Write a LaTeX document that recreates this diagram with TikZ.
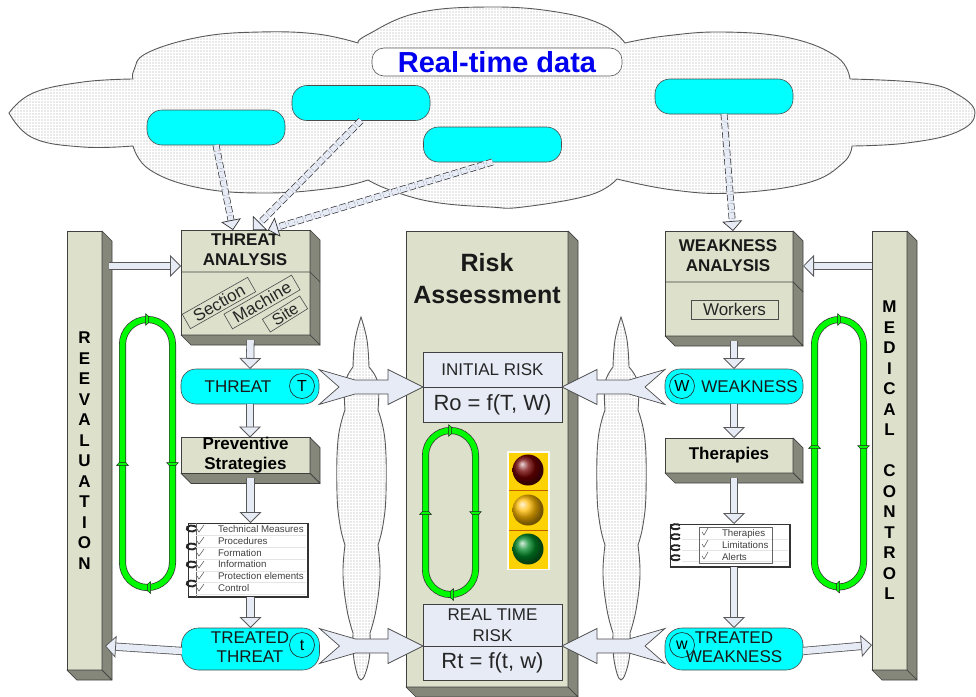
\documentclass[tikz,border=0pt]{standalone}
\usepackage{fontspec}
\setmainfont{Liberation Sans}
\usepackage{xcolor}
\usetikzlibrary{arrows.meta,calc,patterns.meta,shadings}

\definecolor{blockfill}{HTML}{DDE0CB}
\definecolor{blockside}{HTML}{848779}
\definecolor{flowfill}{HTML}{E6EBF6}
\definecolor{feedcyan}{HTML}{00FFFF}
\definecolor{loopgreen}{HTML}{00FA00}
\definecolor{titleblue}{HTML}{0000F0}

\newcommand{\fsize}[1]{\fontsize{#1}{#1}\selectfont}

% side and bottom faces of a block
\newcommand{\extrude}[1]{%
  \draw[sideface] (#1.north east) -- ($(#1.north east)+(10,10)$) -- ($(#1.south east)+(10,10)$) -- (#1.south east) -- cycle;
  \draw[sideface] (#1.south west) -- ($(#1.south west)+(10,10)$) -- ($(#1.south east)+(10,10)$) -- (#1.south east) -- cycle;
  \coordinate (#1b) at ($(#1.south)+(5,5)$);
}

% wide arrow with a forked tail: tail x, tip, direction
\newcommand{\forked}[3]{%
  \coordinate (tl) at (#1 |- #2);
  \draw[bigflow] ($(tl)+(0,-17.5)$) -- ($(tl)+(#3*20,0)$) -- ($(tl)+(#3*0,17.5)$) -- ($(tl)+(#3*36,7)$)
    -- ($(#2)+(#3*-35,7)$) -- ($(#2)+(#3*-35,17.5)$) -- (#2) -- ($(#2)+(#3*-35,-17.5)$)
    -- ($(#2)+(#3*-35,-7)$) -- ($(tl)+(#3*36,-7)$) -- cycle;
}

\begin{document}
\begin{tikzpicture}[x=1pt,y=-1pt]

\tikzset{block/.style = {draw=black!75,fill=blockfill,line width=.7pt,inner sep=0pt,outer sep=0pt,align=center}}
\tikzset{blockline/.style = {draw=black!75,line width=.7pt}}
\tikzset{sideface/.style = {draw=black!75,fill=blockside,line width=.7pt,line join=round}}
\tikzset{pill/.style = {draw=black!70,fill=feedcyan,line width=.6pt,rounded corners=15pt,inner sep=0pt,outer sep=0pt,
  minimum width=138pt,minimum height=35pt,align=center,font=\fsize{17}}}
\tikzset{badge/.style = {circle,draw=black!85,line width=.6pt,minimum size=25pt,inner sep=0pt,font=\fsize{16}}}
\tikzset{plain/.style = {inner sep=0pt,outer sep=0pt,align=center,text=black!90}}
\tikzset{tag/.style = {draw=black!70,line width=.6pt,inner sep=0pt,font=\fsize{17},text=black!85}}
\tikzset{riskbox/.style = {draw=black!75,fill=flowfill,line width=.7pt,inner sep=0pt,outer sep=0pt,minimum width=139pt,align=center,text=black!85}}
\tikzset{flow/.style = {line width=.8pt,draw=black!65,double=flowfill,double distance=6.6pt,
  -{Triangle[length=11pt,width=22pt,fill=flowfill,line width=.8pt]}}}
\tikzset{dashflow/.style = {line width=.7pt,draw=black!80,dash pattern=on 6pt off 3pt,double=flowfill,double distance=5.4pt,
  preaction={draw=flowfill,solid,line width=6.5pt,-,shorten >=8pt},
  -{Triangle[length=10pt,width=20pt,fill=flowfill,line width=.7pt]}}}
\tikzset{bigflow/.style = {draw=black!70,fill=flowfill,line width=.7pt,line join=miter}}
\tikzset{cloudshape/.style = {draw=black!65,line width=.9pt,pattern={Dots[distance=3pt,radius=.47pt]},pattern color=black,preaction={fill=white}}}
\tikzset{note/.style = {draw=black!80,fill=white,line width=.7pt,inner sep=0pt,outer sep=0pt}}
\tikzset{ringband/.style = {draw=black!80,line width=.7pt,double=loopgreen,double distance=5.6pt,rounded corners=25pt}}
\tikzset{ringmark/.style = {draw=black!85,fill=loopgreen,line width=.5pt,line join=round}}
\tikzset{curl/.style = {draw=black!85,line width=1.9pt}}

\useasboundingbox (0,0) rectangle (976,696);

% clouds
\draw[cloudshape] plot[smooth,tension=.7] coordinates {(9,113) (33,93) (83,82) (133,79)}
  -- plot[smooth,tension=.7] coordinates {(133,79) (134,70) (147,53) (200,37) (260,32) (317,34) (358,43)}
  -- plot[smooth,tension=.7] coordinates {(358,43) (367,35) (417,13) (490,7) (557,12) (603,25) (625,43)}
  -- plot[smooth,tension=.7] coordinates {(625,43) (665,36) (723,32) (790,38) (837,57) (850,79)}
  -- plot[smooth,tension=.7] coordinates {(850,79) (923,83) (957,94) (975,113) (957,132) (907,143) (852,146)}
  -- plot[smooth,tension=.7] coordinates {(852,146) (843,163) (807,183) (733,193) (673,190) (617,179)}
  -- plot[smooth,tension=.7] coordinates {(617,179) (590,195) (523,207) (490,207) (433,202) (390,190) (368,180)}
  -- plot[smooth,tension=.7] coordinates {(368,180) (333,188) (267,193) (200,188) (150,170) (133,146)}
  -- plot[smooth,tension=.7] coordinates {(133,146) (83,147) (33,138) (9,113)} -- cycle;
\foreach \cx in {0,260} {
  \draw[cloudshape,xshift=\cx pt] plot[smooth,tension=.7] coordinates {(361,317) (355,340) (353,367)}
    -- plot[smooth,tension=.7] coordinates {(353,367) (345,383) (345,410)}
    -- plot[smooth,tension=.7] coordinates {(345,410) (338,440) (337,493) (340,525) (345,545)}
    -- plot[smooth,tension=.7] coordinates {(345,545) (343,575) (347,610) (353,633)}
    -- plot[smooth,tension=.7] coordinates {(353,633) (354,660) (361,680) (369,660) (370,633)}
    -- plot[smooth,tension=.7] coordinates {(370,633) (376,610) (380,575) (378,545)}
    -- plot[smooth,tension=.7] coordinates {(378,545) (383,525) (386,493) (385,440) (378,410)}
    -- plot[smooth,tension=.7] coordinates {(378,410) (378,383) (369,367)}
    -- plot[smooth,tension=.7] coordinates {(369,367) (367,340) (361,317)} -- cycle;
}

\node[pill,fill=white,draw=black!65,minimum width=250pt,minimum height=28pt,rounded corners=12pt] (title) at (497,62)
  {\color{titleblue}\bfseries\fsize{29}Real-time data};
\node[pill] (feeda) at (216,127.5) {};
\node[pill] (feedb) at (361,103) {};
\node[pill] (feedc) at (492.5,144.5) {};
\node[pill] (feedd) at (724,96.5) {};

% blocks
\node[block,minimum width=35pt,minimum height=439pt,font=\bfseries\fontsize{17}{20.5}\selectfont] (rev) at (84.5,450.5)
  {R\\E\\E\\V\\A\\L\\U\\A\\T\\I\\O\\N};
\extrude{rev}
\node[block,minimum width=35pt,minimum height=439pt,font=\bfseries\fontsize{17}{20.5}\selectfont] (med) at (889.5,450.5)
  {M\\E\\D\\I\\C\\A\\L\\[20.5pt]C\\O\\N\\T\\R\\O\\L};
\extrude{med}
\node[block,minimum width=162pt,minimum height=456pt] (risk) at (487,459) {};
\extrude{risk}
\node[block,minimum width=129pt,minimum height=105pt] (ta) at (245.5,282.5) {};
\extrude{ta}
\node[block,minimum width=128pt,minimum height=105pt] (wa) at (729,283.5) {};
\extrude{wa}
\node[block,minimum width=129pt,minimum height=35pt,font=\bfseries\fontsize{17}{20}\selectfont] (prev) at (245.5,455.5) {Preventive\\Strategies};
\extrude{prev}
\node[block,minimum width=128pt,minimum height=35pt,font=\bfseries\fsize{17}] (ther) at (729,455.5) {Therapies};
\extrude{ther}

\draw[blockline] (ta.west |- 0,272) -- (ta.east |- 0,272) -- ++(10,10);
\draw[blockline] (wa.west |- 0,282) -- (wa.east |- 0,282) -- ++(10,10);
\node[plain,font=\bfseries\fontsize{17}{20}\selectfont] (talbl) at (245,250) {THREAT\\ANALYSIS};
\node[plain,font=\bfseries\fontsize{17}{20}\selectfont] (walbl) at (728,256) {WEAKNESS\\ANALYSIS};
\node[plain,font=\bfseries\fontsize{25}{32}\selectfont] (risklbl) at (487,279) {Risk\\Assessment};

\node[tag,rotate=29.5,minimum width=75pt,minimum height=16.5pt] (sect) at (219,303) {Section};
\node[tag,rotate=30,minimum width=78pt,minimum height=17pt] (mach) at (262,302) {Machine};
\node[tag,rotate=32,minimum width=44pt,minimum height=15pt,font=\fsize{16}] (site) at (285,314) {Site};
\node[tag,minimum width=87pt,minimum height=19pt] (work) at (734.5,309.5) {Workers};

% pills of the middle rows
\node[pill] (threat) at (250,386.5) {};
\node[plain,font=\fsize{17}] (threatlbl) at (238,386.5) {THREAT};
\node[badge] (tt) at (302,386) {T};
\node[pill] (weak) at (734,386.5) {};
\node[plain,font=\fsize{17}] (weaklbl) at (749.5,386.5) {WEAKNESS};
\node[badge] (ww) at (682,386) {W};
\node[pill,minimum height=42pt,rounded corners=17pt] (tthreat) at (250.5,649) {};
\node[plain,font=\fontsize{17}{19}\selectfont] (tthreatlbl) at (250,647.5) {TREATED\\THREAT};
\node[badge] (tsmall) at (302,645) {t};
\node[pill,minimum height=42pt,rounded corners=17pt] (tweak) at (734,649) {};
\node[badge] (wsmall) at (682,645) {w};
\node[plain,font=\fontsize{17}{19}\selectfont] (tweaklbl) at (734,647.5) {TREATED\\WEAKNESS};

% risk boxes
\node[riskbox,minimum height=35pt,font=\fsize{17}] (ini) at (492.5,369.5) {INITIAL RISK};
\node[riskbox,minimum height=35pt,font=\fsize{22}] (inif) at (492.5,404.5) {Ro = f(T, W)};
\node[riskbox,minimum height=42pt,font=\fontsize{17}{21}\selectfont] (real) at (492.5,625) {REAL TIME\\RISK};
\node[riskbox,minimum height=34pt,font=\fsize{22}] (realf) at (492.5,663) {Rt = f(t, w)};

% traffic light
\node[inner sep=0pt,outer sep=0pt,fill=white!85!blockfill,minimum width=43pt,minimum height=119pt] (lamp) at (528.5,510.5) {};
\fill[fill=yellow!70!orange] (509,453) rectangle (548,569);
\draw[orange!75!black,line width=.5pt] (509,490) -- (548,490) (509,530) -- (548,530);
\shade[ball color=red!45!black] (528,470) circle (15.5);
\shade[ball color=orange!55!yellow] (528,510) circle (15.5);
\shade[ball color=green!45!black!85!cyan] (528,549) circle (15.5);

% notebooks
\node[note,minimum width=120pt,minimum height=74pt] (nota) at (248,560) {};
\draw[black!80,line width=1.6pt] (nota.north east) -- (nota.south east) -- (nota.south west);
\draw[black!60,line width=.5pt] (196,523) -- (196,597);
\foreach \ny in {535,547,559,571,582,594} {\draw[black!10,line width=.6pt] (196,\ny) -- (306,\ny);}
\foreach \ny in {529,541,553,565,576,588} {\draw[black!70,line width=.5pt] (197,\ny) -- (199,\ny+3) -- (204,\ny-4);}
\foreach \ny in {532,550,568,587} {\draw[curl] (196,\ny-2) arc (30:330:5 and 3);}
\node[plain,anchor=west,align=left,font=\fontsize{9.7}{11.8}\selectfont,text=black!75] (notalbl) at (218,558.5)
  {Technical Measures\\Procedures\\Formation\\Information\\Protection elements\\Control};

\node[note,minimum width=120pt,minimum height=43pt] (notb) at (730,545.5) {};
\draw[black!80,line width=1.6pt] (notb.north east) -- (notb.south east) -- (notb.south west);
\foreach \ny in {530,540,551,561} {\draw[curl] (680,\ny-2) arc (30:330:5 and 2.6);}
\foreach \ny in {539,550,561} {\draw[black!10,line width=.6pt] (682,\ny) -- (788,\ny);}
\node[draw=black!60,line width=.5pt,inner sep=0pt,outer sep=0pt,minimum width=73pt,minimum height=36pt] (notbbox) at (735.5,545) {};
\foreach \ny in {532,544,556} {\draw[black!70,line width=.5pt] (702,\ny) -- (704,\ny+3) -- (708,\ny-4);}
\node[plain,anchor=west,align=left,font=\fontsize{9.7}{11.8}\selectfont,text=black!75] (notblbl) at (722,545)
  {Therapies\\Limitations\\Alerts};

% rings
\foreach \lx/\ty/\rx/\by/\tx/\bx/\my in {122.5/319.5/172.5/587.5/147/149/464, 425.5/430.5/475.5/594.5/450/452/513, 814.5/319.5/863.5/587/839/838/447} {
  \draw[ringband] (\lx,\ty) rectangle (\rx,\by);
  \draw[ringmark,shift={(\tx,\ty)}] (-1.5,-6) -- (1.5,-3.2) -- (1.5,3.2) -- (-1.5,6) -- cycle;
  \draw[ringmark,shift={(\bx,\by)},rotate=180] (-1.5,-6) -- (1.5,-3.2) -- (1.5,3.2) -- (-1.5,6) -- cycle;
  \draw[ringmark,shift={(\lx,\my)},rotate=90] (-1.5,-6) -- (1.5,-3.2) -- (1.5,3.2) -- (-1.5,6) -- cycle;
  \draw[ringmark,shift={(\rx,\my)},rotate=-90] (-1.5,-6) -- (1.5,-3.2) -- (1.5,3.2) -- (-1.5,6) -- cycle;
}

% edges
\coordinate (ltop) at (109,266);
\coordinate (ltip) at (105,646);
\coordinate (lout) at (182,651);
\coordinate (rout) at (803,651);
\coordinate (rtop) at (872,266);
\coordinate (tip1) at (233,230);
\coordinate (tip2) at (253,230);
\coordinate (tip3) at (268,230);
\coordinate (tip4) at (733,231);

\draw[flow] (ltop) -- (ta.west |- ltop);
\draw[flow] (rtop) -- ($(wa.east |- rtop)+(10,0)$);
\draw[flow] (tab) -- (threat.north);
\draw[flow] (threat.south) -- (threat.south |- prev.north);
\draw[flow] (prevb) -- (prevb |- nota.north);
\draw[flow] (prevb |- nota.south) -- (tthreat.north);
\draw[flow] (wab) -- (weak.north);
\draw[flow] (weak.south) -- (weak.south |- ther.north);
\draw[flow] (therb) -- (therb |- notb.north);
\draw[flow] (therb |- notb.south) -- (tweak.north);
\draw[flow] (lout) -- (ltip);
\draw[flow] (rout) -- (med.west |- 0,645);

\draw[dashflow] (feeda.south) -- (tip1);
\draw[dashflow] (feedb.south) -- (tip2);
\draw[dashflow] (feedc.south) -- (tip3);
\draw[dashflow] (feedd.south) -- (tip4);

\forked{threat.east}{ini.south west}{1}
\forked{weak.west}{ini.south east}{-1}
\forked{tthreat.east}{real.south west}{1}
\forked{tweak.west}{real.south east}{-1}
\end{tikzpicture}
\end{document}
